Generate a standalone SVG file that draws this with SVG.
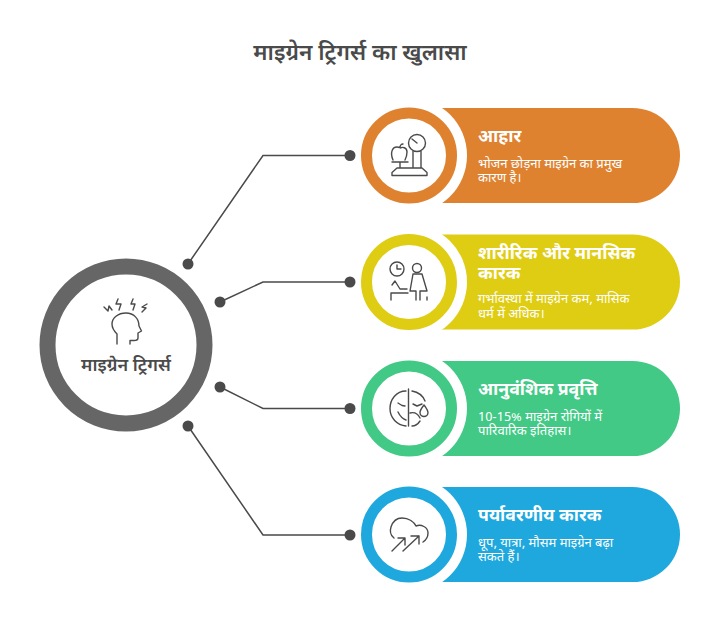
<svg xmlns="http://www.w3.org/2000/svg" width="720" height="642" viewBox="0 0 720 642">
<style>
text{font-family:"Noto Sans Devanagari","Noto Sans","Lohit Devanagari","Liberation Sans","DejaVu Sans",sans-serif}
.title{font-size:22.600px;font-weight:600;fill:#4a4a4a}
.h{font-size:17.700px;font-weight:700;fill:#fff}
.b{font-size:13px;fill:#fff}
.c{fill:none;stroke:#4a4a4a;stroke-width:1.5}
.i{fill:none;stroke:#4a4a4a;stroke-width:1.4;stroke-linecap:round;stroke-linejoin:round}
.d{fill:#4a4a4a}
.w{fill:#fff}
</style>
<rect width="720" height="642" fill="#fff"/>
<text class="title" x="360" y="60" text-anchor="middle">माइग्रेन ट्रिगर्स का खुलासा</text>
<g id="center">
<circle cx="126" cy="345" r="78.500" fill="#fff" stroke="#666" stroke-width="16"/>
<path class="i" d="M117 344V334C113 330 112 326 112 324C112 318 118 313 126 313C134 313 139 319 139 326L141.500 331L138 333V338C138 340 136 340.500 134 340.500H130V344"/>
<path class="i" d="M104 307L108 311L109 306L112 310M118 299L116 304L121 304L119 310M133 299L131 304L135 304L133 310M147 304L142 307L146 308L142 312"/>
<text x="126" y="371" text-anchor="middle" font-size="18" font-weight="600" fill="#4a4a4a">माइग्रेन ट्रिगर्स</text>
</g>
<g id="node-diet">
<rect x="361" y="108" width="319" height="95" rx="47.500" fill="#DF8230"/>
<circle class="w" cx="409" cy="155.500" r="58"/>
<circle cx="409" cy="155.500" r="42.500" fill="#fff" stroke="#DF8230" stroke-width="11"/>
<path class="i" d="M392 175.500H427V172.500L422 168H397L392 172.500ZM392 162H408M400 162V168M413 168V151M421 168V151"/>
<circle class="i" cx="417" cy="143" r="8.500"/>
<path class="i" d="M417 143L412 139M393 160C390 153 392 147 397 147C399 147 400 148 400.500 148C402 147 407 147 407 152C407 155 406 158 405 160M400 147C400 146 401 144 403 144"/>
<text class="h" x="478" y="142">आहार</text>
<text class="b" x="478" y="167.500">भोजन छोड़ना माइग्रेन का प्रमुख</text>
<text class="b" x="478" y="182">कारण है।</text>
</g>
<g id="node-physical">
<rect x="361" y="234.500" width="319" height="95" rx="47.500" fill="#DFCD14"/>
<circle class="w" cx="409" cy="282" r="58"/>
<circle cx="409" cy="282" r="42.500" fill="#fff" stroke="#DFCD14" stroke-width="11"/>
<circle class="i" cx="397" cy="269" r="7"/>
<path class="i" d="M397 265V269H401"/>
<circle class="i" cx="417" cy="268" r="4.500"/>
<path class="i" d="M391 300V293H408M392 285L395 281L400 289H407M413 274H422L427 291H420V300M413 274L410 291H416V300M427 297V300"/>
<text class="h" x="478" y="258.500">शारीरिक और मानसिक</text>
<text class="h" x="478" y="278.500">कारक</text>
<text class="b" x="478" y="303">गर्भावस्था में माइग्रेन कम, मासिक</text>
<text class="b" x="478" y="317.500">धर्म में अधिक।</text>
</g>
<g id="node-genetic">
<rect x="361" y="361" width="319" height="95" rx="47.500" fill="#41C985"/>
<circle class="w" cx="409" cy="408.500" r="58"/>
<circle cx="409" cy="408.500" r="42.500" fill="#fff" stroke="#41C985" stroke-width="11"/>
<path class="i" d="M408.500 389V426M406 391C396 391 390 400 390 408.500C390 418 397 425 406 426M412 391C418 392 423 396 425 401M412 426C415 426 418 424 420 421"/>
<path class="i" d="M398 403L402 405.500L405 406M413 404L417 406L422 404M398 412C400 416 403 419 406 420M410 413C414 412 418 414 420 418M424 405C421 409 420 410 420 412.500C420 415 422 416.500 424 416.500C426 416.500 428 415 428 412.500C428 410 426 408 424 405Z"/>
<text class="h" x="478" y="395">आनुवंशिक प्रवृत्ति</text>
<text class="b" x="478" y="420.500">10-15% माइग्रेन रोगियों में</text>
<text class="b" x="478" y="435">पारिवारिक इतिहास।</text>
</g>
<g id="node-environment">
<rect x="361" y="487" width="319" height="95" rx="47.500" fill="#1EA8DD"/>
<circle class="w" cx="409" cy="534.500" r="58"/>
<circle cx="409" cy="534.500" r="42.500" fill="#fff" stroke="#1EA8DD" stroke-width="11"/>
<path class="i" d="M394 538C390 535 390 530 391 527C393 521 397 518 402 518C409 518 414 522 416 526C421 524 428 527 428 533C428 537 426 540 423 542"/>
<path class="i" d="M392 551L405 538M398 538H405V545M403 551L419 536M411 536H419V544"/>
<text class="h" x="478" y="521">पर्यावरणीय कारक</text>
<text class="b" x="478" y="547">धूप, यात्रा, मौसम माइग्रेन बढ़ा</text>
<text class="b" x="478" y="561">सकते हैं।</text>
</g>
<g id="connectors">
<path class="c" d="M188 264L263 155.500H350"/>
<path class="c" d="M220 302L263 282H350"/>
<path class="c" d="M220 387L263 408.500H350"/>
<path class="c" d="M188 426L263 535H350"/>
<circle class="d" cx="188" cy="264" r="5.500"/><circle class="d" cx="220" cy="302" r="5.500"/><circle class="d" cx="220" cy="387" r="5.500"/><circle class="d" cx="188" cy="426" r="5.500"/>
<circle class="d" cx="350" cy="155.500" r="5.500"/><circle class="d" cx="350" cy="282" r="5.500"/><circle class="d" cx="350" cy="408.500" r="5.500"/><circle class="d" cx="350" cy="535" r="5.500"/>
</g>
</svg>
